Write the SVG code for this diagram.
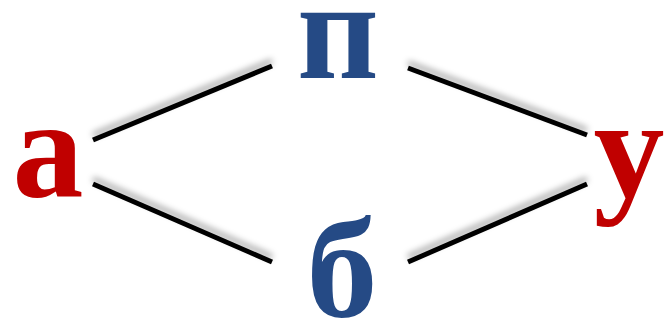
<svg xmlns="http://www.w3.org/2000/svg" width="665" height="321" viewBox="0 0 665 321">
<defs>
<filter id="sh" x="-20%" y="-60%" width="140%" height="220%">
<feDropShadow dx="0" dy="-5" stdDeviation="3" flood-color="#000" flood-opacity="0.35"/>
</filter>
<style>
.t{font-family:"Liberation Serif","Times New Roman",serif;font-weight:bold;font-size:142px;text-anchor:middle}
.r{fill:#C00000}
.b{fill:#254A85}
.c{stroke:#000;stroke-width:5;stroke-linecap:butt;fill:none}
</style>
</defs>
<g id="connectors" filter="url(#sh)">
<line class="c" x1="93" y1="140" x2="272" y2="66"/>
<line class="c" x1="93" y1="184" x2="272" y2="262"/>
<line class="c" x1="408" y1="68" x2="587" y2="135"/>
<line class="c" x1="408" y1="262" x2="587" y2="184"/>
</g>
<g id="node-a"><text class="t r" x="48" y="197">а</text></g>
<g id="node-p"><text class="t b" x="338" y="78">п</text></g>
<g id="node-u"><text class="t r" x="629" y="197">у</text></g>
<g id="node-b"><text class="t b" x="342" y="317">б</text></g>
</svg>
